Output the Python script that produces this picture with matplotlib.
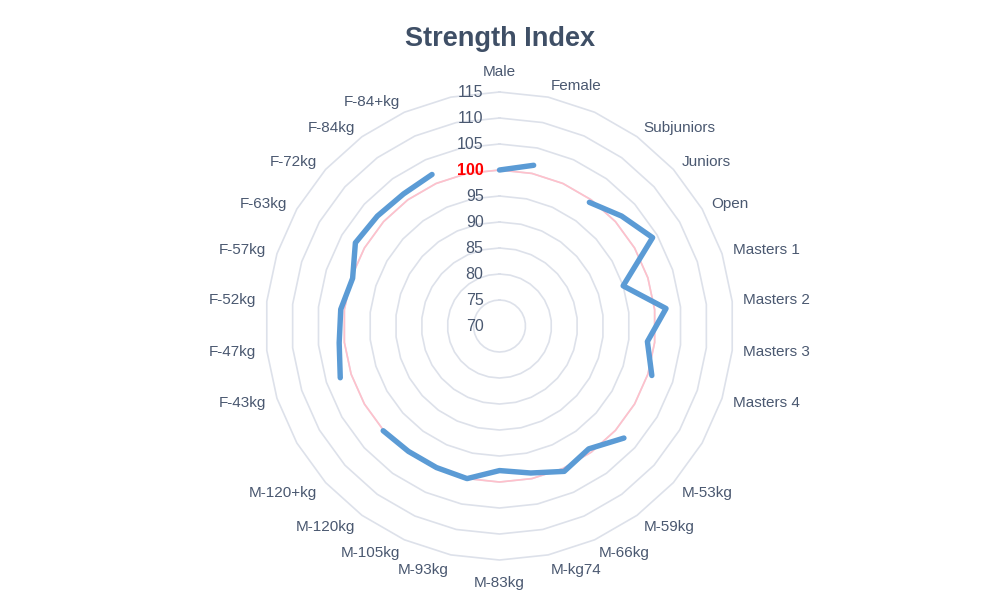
import numpy as np
import matplotlib
matplotlib.use("Agg")
import matplotlib.pyplot as plt

categories = ['Male', 'Female', '', 'Subjuniors', 'Juniors', 'Open',
              'Masters 1', 'Masters 2', 'Masters 3', 'Masters 4', '',
              'M-53kg', 'M-59kg', 'M-66kg', 'M-kg74', 'M-83kg', 'M-93kg',
              'M-105kg', 'M-120kg', 'M-120+kg', '',
              'F-43kg', 'F-47kg', 'F-52kg', 'F-57kg', 'F-63kg', 'F-72kg',
              'F-84kg', 'F-84+kg', '']
nan = float('nan')
strength = [100.0, 101.6, nan, 99.4, 101.6, 104.0,
            95.0, 102.2, 98.6, 100.8, nan,
            102.2, 99.2, 100.6, 98.9, 97.8, 100.0,
            99.8, 99.8, 100.1, nan,
            102.2, 101.0, 100.7, 99.7, 102.0, 101.6,
            101.4, 101.9, nan]
reference_value = 100
radial_ticks = [70, 75, 80, 85, 90, 95, 100, 105, 110, 115]
title = 'Strength Index'

plt.rcParams['font.family'] = ['Liberation Sans', 'DejaVu Sans']

fig = plt.figure(figsize=(10, 6.01), dpi=100)
ax = fig.add_axes([0.2655, 0.0682, 0.468, 0.7787], projection='polar')
ax.set_theta_zero_location('N')
ax.set_theta_direction(-1)
ax.set_ylim(radial_ticks[0], radial_ticks[-1])
ax.grid(False)
ax.spines['polar'].set_visible(False)
ax.set_xticks([])
ax.set_yticks([])
ax.set_facecolor('white')

n = len(categories)
theta = np.arange(n) * 2 * np.pi / n
theta_closed = np.append(theta, theta[0])

grid_color = '#dde1ea'
label_color = '#4a5870'

# polygon grid rings
for lvl in radial_ticks[1:]:
    ax.plot(theta_closed, [lvl] * (n + 1), color=grid_color, lw=1.2,
            zorder=1, clip_on=False)

# reference line at 100
ax.plot(theta_closed, [reference_value] * (n + 1), color='#ffc0cb', lw=1.2,
        zorder=2, clip_on=False)

# data line
ax.plot(theta, strength, color='#5b9bd5', lw=3.9, zorder=3,
        solid_joinstyle='round', solid_capstyle='round', clip_on=False)

# radial tick labels
for v in radial_ticks:
    if v == reference_value:
        ax.annotate(str(v), xy=(0, v), xytext=(-16, 0), textcoords='offset pixels',
                    ha='right', va='center', fontsize=11.5, color='red',
                    fontweight='bold', zorder=5)
    else:
        ax.annotate(str(v), xy=(0, v), xytext=(-16, 0), textcoords='offset pixels',
                    ha='right', va='center', fontsize=11.5, color=label_color,
                    zorder=5)

# angular labels
rmax = radial_ticks[-1]
for th, lab in zip(theta, categories):
    if not lab:
        continue
    s, c = np.sin(th), np.cos(th)
    if abs(s) < 1e-6:
        if c > 0:
            dx, dy = 0, 20
        else:
            dx, dy = 0, -23
        ha = 'center'
    else:
        dx = 11 * s
        dy = 11 * c - 4 * max(0.0, -c)
        ha = 'left' if s > 0 else 'right'
    ax.annotate(lab, xy=(th, rmax), xytext=(dx, dy), textcoords='offset pixels',
                ha=ha, va='center', fontsize=11, color=label_color,
                annotation_clip=False)

fig.text(0.5, 1 - 39 / 601, title, ha='center', va='center', fontsize=19.5,
         fontweight='bold', color='#3f4f66')

fig.savefig('out.png', dpi=100, facecolor='white')
